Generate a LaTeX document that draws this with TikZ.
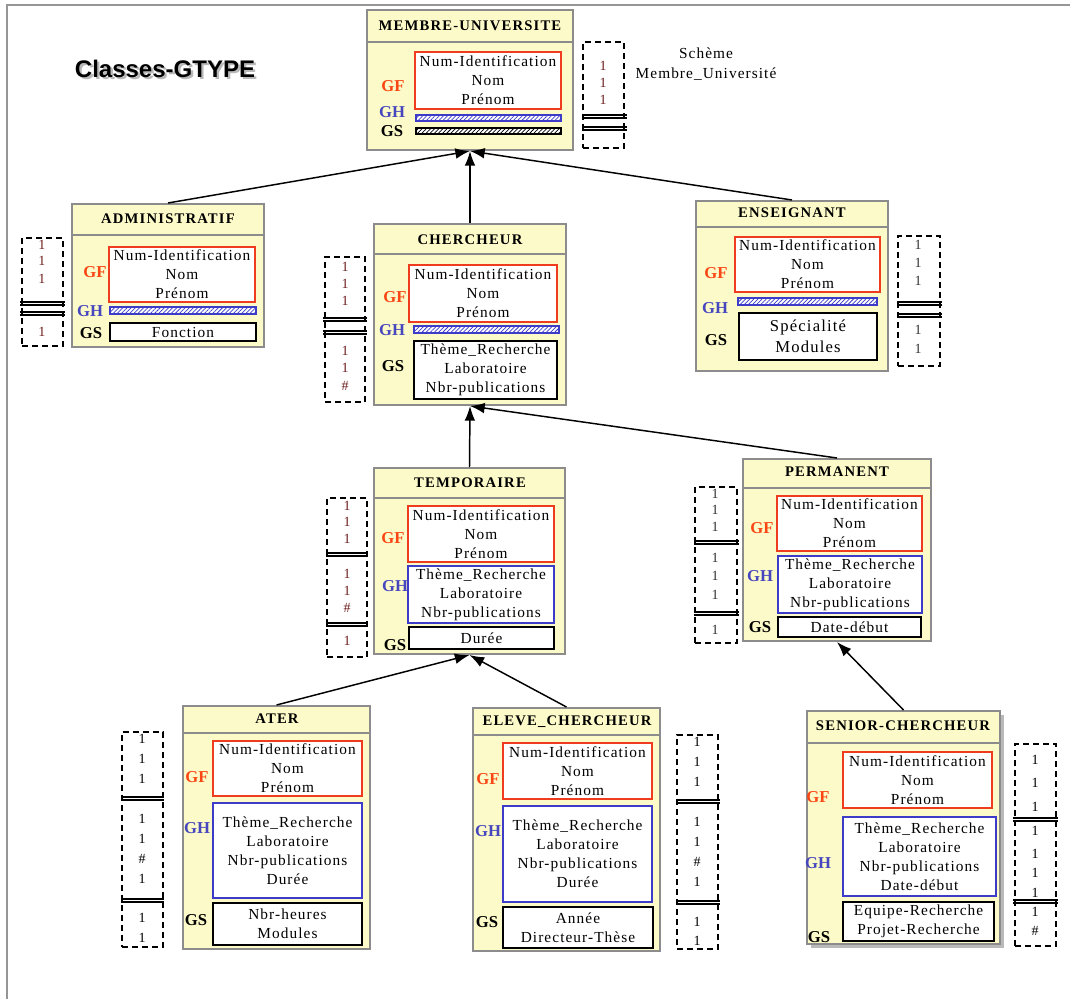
\documentclass[tikz,border=0pt]{standalone}
\usepackage{fontspec}
\setmainfont{Liberation Serif}
\newfontfamily\fldserif{Liberation Serif}[LetterSpace=7]
\newfontfamily\hdserif{Liberation Serif}[LetterSpace=8]
\newfontfamily\ttlsans{Liberation Sans}
\usetikzlibrary{arrows.meta,fit,patterns.meta}

\definecolor{classfill}{RGB}{252,250,200}
\definecolor{boxgray}{RGB}{140,140,140}
\definecolor{framegray}{RGB}{150,150,150}
\definecolor{gfred}{RGB}{240,60,30}
\definecolor{gflab}{RGB}{250,70,20}
\definecolor{ghblue}{RGB}{60,60,200}
\definecolor{ghlab}{RGB}{70,70,190}
\definecolor{numred}{RGB}{110,30,30}
\definecolor{numgray}{RGB}{50,50,50}

\newcommand\fldfont{\fldserif\fontsize{11.5}{14.25}\selectfont}
\newcommand\fldbig{\fldserif\fontsize{12.5}{15.75}\selectfont}
% double rule across a dashed column: x from, x to, y
\newcommand\dsep[3]{%
  \draw[sepline] (#1,#3) -- (#2,#3);
  \draw[sepline, line width=0.8pt] (#1,#3+3) -- (#2,#3+3);}

\begin{document}
\begin{tikzpicture}[x=0.75pt,y=-0.75pt,
  classbox/.style={draw=boxgray, line width=1.5pt, fill=classfill, inner sep=0pt},
  shadowbox/.style={fill=gray!55, draw=none, inner sep=0pt},
  divider/.style={draw=boxgray, line width=1.2pt},
  classtitle/.style={font=\hdserif\bfseries\fontsize{11}{13}\selectfont},
  gfbox/.style={draw=gfred, line width=1.2pt, fill=white, inner sep=0pt},
  ghbox/.style={draw=ghblue, line width=1.1pt, fill=white, inner sep=0pt},
  gsbox/.style={draw=black, line width=1.3pt, fill=white, inner sep=0pt},
  fld/.style={align=center, font=\fldfont, inner sep=0pt},
  ghbar/.style={draw=ghblue, line width=0.9pt, fill=white, inner sep=0pt,
    postaction={pattern={Lines[angle=45,distance=2.2pt,line width=0.55pt]}, pattern color=ghblue}},
  gsbar/.style={draw=black, line width=0.9pt, fill=white, inner sep=0pt,
    postaction={pattern={Lines[angle=45,distance=2.2pt,line width=0.55pt]}, pattern color=black}},
  gflabel/.style={text=gflab, font=\bfseries\fontsize{12.5}{14}\selectfont},
  ghlabel/.style={text=ghlab, font=\bfseries\fontsize{12.5}{14}\selectfont},
  gslabel/.style={text=black, font=\bfseries\fontsize{12.5}{14}\selectfont},
  dashbox/.style={draw=black, line width=1.1pt, dash pattern=on 4.5pt off 3pt, inner sep=0pt},
  num/.style={font=\fldserif\fontsize{10.5}{12}\selectfont},
  sepline/.style={draw=black, line width=1.1pt},
  isa/.style={draw=black, line width=1.1pt, -{Latex[length=11pt,width=8pt]}},
  ttl/.style={font=\ttlsans\bfseries\fontsize{18}{20}\selectfont}
]
\useasboundingbox (0,0) rectangle (1070,999);
\draw[framegray, line width=1.6pt] (1070,5) -- (7,5) -- (7,999);

% title, set twice inside one box to give it a soft drop shadow
\node[ttl] (title) at (165,70)
  {\rlap{\hspace{1.8pt}\raisebox{-1.8pt}{\color{gray!55}Classes-GTYPE}}Classes-GTYPE};

% ---------------- MEMBRE-UNIVERSITE
\node[classbox, fit={(367,10) (573,150)}] (membre) {};
\draw[divider] (367,42) -- (573,42);
\node[classtitle] (membreT) at (470,26) {MEMBRE-UNIVERSITE};
\node[gfbox, fit={(415,52) (561,109)}] (membreGF) {};
\node[fld] (membreGFt) at (membreGF.center) {Num-Identification\\Nom\\Prénom};
\node[ghbar, fit={(416,115) (561,121)}] (membreGH) {};
\node[gsbar, fit={(416,128) (561,134)}] (membreGS) {};
\node[gflabel] (membreLF) at (393,86) {GF};
\node[ghlabel] (membreLH) at (392,112) {GH};
\node[gslabel] (membreLS) at (392,131) {GS};
\node[dashbox, fit={(583,42) (624,148)}] (membreD) {};
\foreach \y/\t [count=\k] in {66/1,83/1,100/1}
  \node[num, text=numred] (membreN\k) at (603,\y) {\t};
\dsep{582}{627}{115}
\dsep{582}{627}{127}
\node[font=\fldfont, align=center] (scheme) at (706,64) {Schème\\[1pt]Membre\_Université};

% ---------------- ADMINISTRATIF
\node[classbox, fit={(72,204) (264,347)}] (admin) {};
\draw[divider] (72,235) -- (264,235);
\node[classtitle] (adminT) at (168,219) {ADMINISTRATIF};
\node[gfbox, fit={(109,247) (255,302)}] (adminGF) {};
\node[fld] (adminGFt) at (adminGF.center) {Num-Identification\\Nom\\Prénom};
\node[ghbar, fit={(110,307) (256,314)}] (adminGH) {};
\node[gsbox, fit={(110,323) (256,341)}] (adminGS) {};
\node[fld] (adminGSt) at (adminGS.center) {Fonction};
\node[gflabel] (adminLF) at (95,272) {GF};
\node[ghlabel] (adminLH) at (90,311) {GH};
\node[gslabel] (adminLS) at (91,333) {GS};
\node[dashbox, fit={(22,238) (63,346)}] (adminD) {};
\foreach \y/\t [count=\k] in {245/1,261/1,279/1,332/1}
  \node[num, text=numred] (adminN\k) at (42,\y) {\t};
\dsep{20}{65}{302}
\dsep{20}{65}{312}

% ---------------- CHERCHEUR
\node[classbox, fit={(374,224) (566,405)}] (cherch) {};
\draw[divider] (374,254) -- (566,254);
\node[classtitle] (cherchT) at (470,240) {CHERCHEUR};
\node[gfbox, fit={(409,265) (557,322)}] (cherchGF) {};
\node[fld] (cherchGFt) at (cherchGF.center) {Num-Identification\\Nom\\Prénom};
\node[ghbar, fit={(414,326) (559,333)}] (cherchGH) {};
\node[gsbox, fit={(414,341) (557,399)}] (cherchGS) {};
\node[fld] (cherchGSt) at (cherchGS.center) {Thème\_Recherche\\Laboratoire\\Nbr-publications};
\node[gflabel] (cherchLF) at (395,297) {GF};
\node[ghlabel] (cherchLH) at (392,330) {GH};
\node[gslabel] (cherchLS) at (393,366) {GS};
\node[dashbox, fit={(325,257) (365,402)}] (cherchD) {};
\foreach \y/\t [count=\k] in {267/1,284/1,301/1,351/1,368/1,386/\#}
  \node[num, text=numred] (cherchN\k) at (345,\y) {\t};
\dsep{323}{367}{318}
\dsep{323}{367}{331}

% ---------------- ENSEIGNANT
\node[classbox, fit={(696,201) (888,371)}] (ens) {};
\draw[divider] (696,227) -- (888,227);
\node[classtitle] (ensT) at (792,213) {ENSEIGNANT};
\node[gfbox, fit={(735,237) (880,292)}] (ensGF) {};
\node[fld] (ensGFt) at (ensGF.center) {Num-Identification\\Nom\\Prénom};
\node[ghbar, fit={(738,298) (877,305)}] (ensGH) {};
\node[gsbox, fit={(739,313) (877,360)}] (ensGS) {};
\node[fld, font=\fldbig] (ensGSt) at (ensGS.center) {Spécialité\\Modules};
\node[gflabel] (ensLF) at (716,273) {GF};
\node[ghlabel] (ensLH) at (715,308) {GH};
\node[gslabel] (ensLS) at (716,340) {GS};
\node[dashbox, fit={(898,236) (940,366)}] (ensD) {};
\foreach \y/\t [count=\k] in {245/1,263/1,281/1,330/1,349/1}
  \node[num, text=numgray] (ensN\k) at (918,\y) {\t};
\dsep{897}{942}{302}
\dsep{897}{942}{314}

% ---------------- TEMPORAIRE
\node[classbox, fit={(374,468) (565,654)}] (temp) {};
\draw[divider] (374,498) -- (565,498);
\node[classtitle] (tempT) at (470,483) {TEMPORAIRE};
\node[gfbox, fit={(408,506) (554,562)}] (tempGF) {};
\node[fld] (tempGFt) at (tempGF.center) {Num-Identification\\Nom\\Prénom};
\node[ghbox, fit={(408,566) (554,623)}] (tempGH) {};
\node[fld] (tempGHt) at (tempGH.center) {Thème\_Recherche\\Laboratoire\\Nbr-publications};
\node[gsbox, fit={(409,627) (554,649)}] (tempGS) {};
\node[fld] (tempGSt) at (tempGS.center) {Durée};
\node[gflabel] (tempLF) at (393,538) {GF};
\node[ghlabel] (tempLH) at (395,586) {GH};
\node[gslabel] (tempLS) at (395,645) {GS};
\node[dashbox, fit={(327,498) (367,657)}] (tempD) {};
\foreach \y/\t [count=\k] in {506/1,522/1,539/1,574/1,591/1,608/\#,641/1}
  \node[num, text=numred] (tempN\k) at (347,\y) {\t};
\dsep{326}{368}{553}
\dsep{326}{368}{623}

% ---------------- PERMANENT
\node[classbox, fit={(743,459) (931,641)}] (perm) {};
\draw[divider] (743,488) -- (931,488);
\node[classtitle] (permT) at (837,472) {PERMANENT};
\node[gfbox, fit={(777,496) (922,551)}] (permGF) {};
\node[fld] (permGFt) at (permGF.center) {Num-Identification\\Nom\\Prénom};
\node[ghbox, fit={(778,556) (922,613)}] (permGH) {};
\node[fld] (permGHt) at (permGH.center) {Thème\_Recherche\\Laboratoire\\Nbr-publications};
\node[gsbox, fit={(778,617) (921,637)}] (permGS) {};
\node[fld] (permGSt) at (permGS.center) {Date-début};
\node[gflabel] (permLF) at (762,528) {GF};
\node[ghlabel] (permLH) at (760,576) {GH};
\node[gslabel] (permLS) at (760,627) {GS};
\node[dashbox, fit={(695,487) (737,643)}] (permD) {};
\foreach \y/\t [count=\k] in {494/1,510/1,527/1,558/1,576/1,595/1,630/1}
  \node[num, text=numgray] (permN\k) at (715,\y) {\t};
\dsep{694}{739}{541}
\dsep{694}{739}{612}

% ---------------- ATER
\node[classbox, fit={(183,706) (370,949)}] (ater) {};
\draw[divider] (183,733) -- (370,733);
\node[classtitle] (aterT) at (277,719) {ATER};
\node[gfbox, fit={(213,741) (362,796)}] (aterGF) {};
\node[fld] (aterGFt) at (aterGF.center) {Num-Identification\\Nom\\Prénom};
\node[ghbox, fit={(213,803) (362,898)}] (aterGH) {};
\node[fld] (aterGHt) at (aterGH.center) {Thème\_Recherche\\Laboratoire\\Nbr-publications\\Durée};
\node[gsbox, fit={(213,903) (362,945)}] (aterGS) {};
\node[fld] (aterGSt) at (aterGS.center) {Nbr-heures\\Modules};
\node[gflabel] (aterLF) at (197,777) {GF};
\node[ghlabel] (aterLH) at (197,828) {GH};
\node[gslabel] (aterLS) at (196,920) {GS};
\node[dashbox, fit={(122,732) (163,947)}] (aterD) {};
\foreach \y/\t [count=\k] in {739/1,759/1,779/1,819/1,839/1,859/\#,879/1,918/1,938/1}
  \node[num, text=black] (aterN\k) at (142,\y) {\t};
\dsep{121}{164}{797}
\dsep{121}{164}{899}

% ---------------- ELEVE_CHERCHEUR
\node[classbox, fit={(473,708) (660,951)}] (eleve) {};
\draw[divider] (473,735) -- (660,735);
\node[classtitle] (eleveT) at (567,722) {ELEVE\_CHERCHEUR};
\node[gfbox, fit={(503,743) (652,799)}] (eleveGF) {};
\node[fld] (eleveGFt) at (eleveGF.center) {Num-Identification\\Nom\\Prénom};
\node[ghbox, fit={(503,806) (652,902)}] (eleveGH) {};
\node[fld] (eleveGHt) at (eleveGH.center) {Thème\_Recherche\\Laboratoire\\Nbr-publications\\Durée};
\node[gsbox, fit={(503,907) (653,948)}] (eleveGS) {};
\node[fld] (eleveGSt) at (eleveGS.center) {Année\\Directeur-Thèse};
\node[gflabel] (eleveLF) at (488,779) {GF};
\node[ghlabel] (eleveLH) at (488,831) {GH};
\node[gslabel] (eleveLS) at (487,922) {GS};
\node[dashbox, fit={(677,735) (718,949)}] (eleveD) {};
\foreach \y/\t [count=\k] in {742/1,762/1,782/1,822/1,842/1,862/\#,882/1,922/1,941/1}
  \node[num, text=black] (eleveN\k) at (697,\y) {\t};
\dsep{676}{720}{800}
\dsep{676}{720}{901}

% ---------------- SENIOR-CHERCHEUR (with drop shadow)
\node[shadowbox, fit={(811,715) (1004,948)}] (seniorS) {};
\node[classbox, fit={(807,711) (1000,944)}] (senior) {};
\draw[divider] (807,743) -- (1000,743);
\node[classtitle] (seniorT) at (903,726) {SENIOR-CHERCHEUR};
\node[gfbox, fit={(843,752) (992,808)}] (seniorGF) {};
\node[fld] (seniorGFt) at (seniorGF.center) {Num-Identification\\Nom\\Prénom};
\node[ghbox, fit={(843,817) (996,896)}] (seniorGH) {};
\node[fld] (seniorGHt) at (seniorGH.center) {Thème\_Recherche\\Laboratoire\\Nbr-publications\\Date-début};
\node[gsbox, fit={(843,902) (994,941)}] (seniorGS) {};
\node[fld] (seniorGSt) at (seniorGS.center) {Equipe-Recherche\\Projet-Recherche};
\node[gflabel] (seniorLF) at (818,797) {GF};
\node[ghlabel] (seniorLH) at (818,863) {GH};
\node[gslabel] (seniorLS) at (819,937) {GS};
\node[dashbox, fit={(1015,744) (1056,946)}] (seniorD) {};
\foreach \y/\t [count=\k] in {760/1,783/1,807/1,831/1,854/1,873/1,893/1,912/1,931/\#}
  \node[num, text=black] (seniorN\k) at (1035,\y) {\t};
\dsep{1013}{1058}{818}
\dsep{1013}{1058}{900}

% ---------------- inheritance links
\draw[isa] (admin.north) -- (membre.south);
\draw[isa] (cherch.north) -- (membre.south);
\draw[isa] (ens.north) -- (membre.south);
\draw[isa] (temp.north) -- (cherch.south);
\draw[isa] (perm.north) -- (cherch.south);
\draw[isa] (ater.north) -- (temp.south);
\draw[isa] (eleve.north) -- (temp.south);
\draw[isa] (senior.north) -- (perm.south);
\end{tikzpicture}
\end{document}
